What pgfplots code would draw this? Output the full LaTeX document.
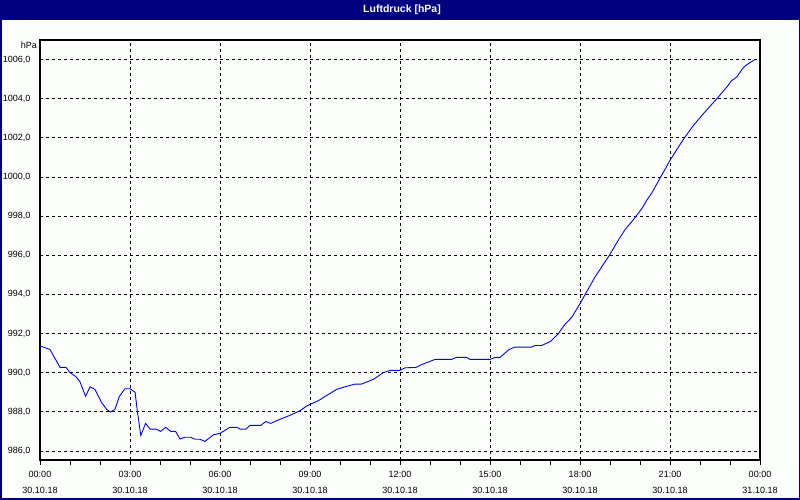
\documentclass[border=0pt]{standalone}
\usepackage{pgfplots}
\pgfplotsset{compat=1.18}
\usepackage{fontspec}
\setmainfont{Liberation Sans}
\definecolor{navyb}{HTML}{000080}
\definecolor{bgc}{HTML}{FBFEFB}
\begin{document}
\begin{tikzpicture}
\useasboundingbox (0pt,0pt) rectangle (800pt,500pt);
\fill[navyb] (0pt,0pt) rectangle (800pt,500pt);
\fill[bgc] (1.5pt,1.5pt) rectangle (798.5pt,479.5pt);
\node[text=white,font=\bfseries\fontsize{10.5}{12}\selectfont] at (402pt,490pt) {Luftdruck [hPa]};
\node[anchor=east, font=\fontsize{9}{11}\selectfont, inner sep=0pt] at (37pt,455pt) {hPa};
\begin{axis}[
  at={(40pt,40pt)}, anchor=south west,
  width=720pt, height=420pt, scale only axis,
  xmin=0, xmax=24, ymin=985.54, ymax=1007.0,
  xtick={0,3,...,24},
  xticklabels={{00:00\\30.10.18},{03:00\\30.10.18},{06:00\\30.10.18},{09:00\\30.10.18},{12:00\\30.10.18},{15:00\\30.10.18},{18:00\\30.10.18},{21:00\\30.10.18},{00:00\\31.10.18}},
  minor xtick={1,2,4,5,7,8,10,11,13,14,16,17,19,20,22,23},
  ytick={986,988,...,1006},
  yticklabel style={/pgf/number format/fixed, /pgf/number format/fixed zerofill, /pgf/number format/precision=1, /pgf/number format/use comma, /pgf/number format/1000 sep={}, xshift=-1pt},
  /pgf/number format/assume math mode=true,
  xtick pos=bottom, ytick pos=left,
  tick align=outside,
  major tick length=5pt, minor tick length=5pt,
  ytick style={draw=none},
  xtick style={black, line width=0.8pt},
  minor tick style={black, line width=0.8pt},
  grid=major,
  major grid style={black, line width=0.9pt, dash pattern=on 3pt off 3pt},
  axis line style={black, line width=1.4pt},
  tick label style={font=\fontsize{9}{15.5}\selectfont, text=black},
  xticklabel style={align=center, yshift=-3pt},
  axis background/.style={fill=bgc},
]
\addplot[color={rgb,255:red,0;green,0;blue,255}, line width=0.9pt] coordinates {
(0.00,991.36) (0.13,991.30) (0.33,991.19) (0.67,990.27) (0.87,990.27)
(1.00,990.00) (1.20,989.80) (1.33,989.54) (1.52,988.80) (1.67,989.28)
(1.83,989.15) (2.06,988.46) (2.24,988.09) (2.36,987.99) (2.50,988.13)
(2.64,988.77) (2.83,989.18) (3.00,989.18) (3.17,989.00) (3.24,988.09)
(3.36,986.80) (3.52,987.41) (3.67,987.12) (3.87,987.12) (4.02,987.00)
(4.19,987.21) (4.36,987.00) (4.52,987.00) (4.67,986.61) (4.83,986.70)
(5.02,986.70) (5.17,986.60) (5.33,986.60) (5.50,986.49) (5.78,986.83)
(6.00,986.90) (6.33,987.21) (6.56,987.21) (6.67,987.12) (6.87,987.12)
(7.00,987.31) (7.36,987.31) (7.53,987.51) (7.69,987.41) (8.00,987.62)
(8.33,987.82) (8.67,988.06) (8.89,988.30) (9.28,988.57) (9.56,988.84)
(9.89,989.15) (10.17,989.28) (10.50,989.42) (10.72,989.42) (11.11,989.66)
(11.44,990.00) (11.67,990.12) (12.00,990.12) (12.17,990.25) (12.53,990.27)
(12.76,990.44) (13.17,990.68) (13.72,990.68) (13.87,990.78) (14.22,990.78)
(14.33,990.68) (15.00,990.68) (15.17,990.78) (15.33,990.78) (15.64,991.19)
(15.83,991.31) (16.39,991.31) (16.50,991.39) (16.72,991.39) (17.02,991.60)
(17.28,992.00) (17.50,992.48) (17.72,992.82) (18.00,993.53) (18.22,994.13)
(18.50,994.89) (18.72,995.40) (19.00,996.05) (19.22,996.63) (19.50,997.31)
(19.78,997.82) (20.06,998.38) (20.22,998.80) (20.40,999.20) (20.69,1000.00)
(21.00,1000.85) (21.28,1001.53) (21.50,1002.04) (21.78,1002.63) (22.11,1003.23)
(22.56,1004.00) (22.89,1004.59) (23.06,1004.93) (23.22,1005.10) (23.44,1005.58)
(23.56,1005.74) (23.83,1006.00)
};
\end{axis}
\end{tikzpicture}
\end{document}
